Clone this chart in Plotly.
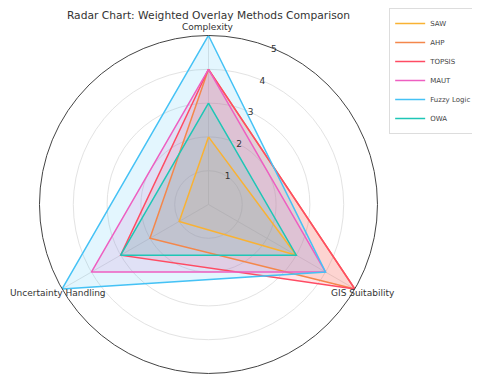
import plotly.graph_objects as go

# Critérios e valores por método
criterios = ['Complexity', 'GIS Suitability', 'Uncertainty Handling']
metodos = ['SAW', 'AHP', 'TOPSIS', 'MAUT', 'Fuzzy Logic', 'OWA']
saw = [2, 3, 1]
ahp = [4, 5, 2]
topsis = [4, 5, 3]
maut = [4, 4, 4]
fuzzy = [5, 4, 5]
owa = [3, 3, 3]
valores = [saw, ahp, topsis, maut, fuzzy, owa]
cores = ['#F9B233', '#F4874B', '#FF4B63', '#EE5FC1', '#45C2F5', '#1EC6B6']


def rgba(hex_cor, a):
    h = hex_cor.lstrip('#')
    r, g, b = int(h[0:2], 16), int(h[2:4], 16), int(h[4:6], 16)
    return f'rgba({r},{g},{b},{a})'


fig = go.Figure()

# Áreas preenchidas (sem legenda)
for nome, vals, cor in zip(metodos, valores, cores):
    fig.add_trace(go.Scatterpolar(
        r=vals + vals[:1],
        theta=criterios + criterios[:1],
        mode='lines',
        fill='toself',
        fillcolor=rgba(cor, 0.15),
        line=dict(width=0),
        showlegend=False,
        hoverinfo='skip'
    ))

# Contornos (com legenda)
for nome, vals, cor in zip(metodos, valores, cores):
    fig.add_trace(go.Scatterpolar(
        r=vals + vals[:1],
        theta=criterios + criterios[:1],
        mode='lines',
        name=nome,
        line=dict(color=cor, width=1.5)
    ))

# Rótulos dos critérios (posição parecida com o original)
rotulos = [
    dict(text='Complexity', x=0.4237, y=0.949, xanchor='center'),
    dict(text='GIS Suitability', x=0.752, y=0.236, xanchor='center'),
    dict(text='Uncertainty Handling', x=0.0, y=0.236, xanchor='left'),
]
for r in rotulos:
    fig.add_annotation(text=r['text'], x=r['x'], y=r['y'], xref='paper', yref='paper',
                       xanchor=r['xanchor'], yanchor='middle', showarrow=False,
                       font=dict(size=9, color='#333333'))

fig.update_layout(
    width=472,
    height=373,
    plot_bgcolor='white',
    paper_bgcolor='white',
    font=dict(family='DejaVu Sans', color='#333333', size=9),
    title=dict(text='Radar Chart: Weighted Overlay Methods Comparison', x=0.4248, y=0.981,
               xanchor='center', yanchor='middle', font=dict(size=10.7, color='#333333')),
    margin=dict(l=0, r=0, t=0, b=0),
    showlegend=True,
    legend=dict(x=0.994, y=1.0, xanchor='right', yanchor='top',
                bordercolor='#dddddd', borderwidth=1, bgcolor='white',
                font=dict(size=7, color='#444444'), itemwidth=30),
    polar=dict(
        domain=dict(x=[0.0667, 0.7828], y=[0.0201, 0.9263]),
        bgcolor='white',
        gridshape='circular',
        radialaxis=dict(range=[0, 5], tickvals=[1, 2, 3, 4, 5], angle=70, tickangle=70,
                        showline=False, gridcolor='#e3e3e3', gridwidth=1,
                        tickfont=dict(size=9, color='#333333'), ticks=''),
        angularaxis=dict(rotation=90, direction='clockwise', showline=True,
                         linecolor='#444444', linewidth=1, gridcolor='#e3e3e3',
                         ticks='', showticklabels=False)
    )
)

fig.write_html("out.html")
